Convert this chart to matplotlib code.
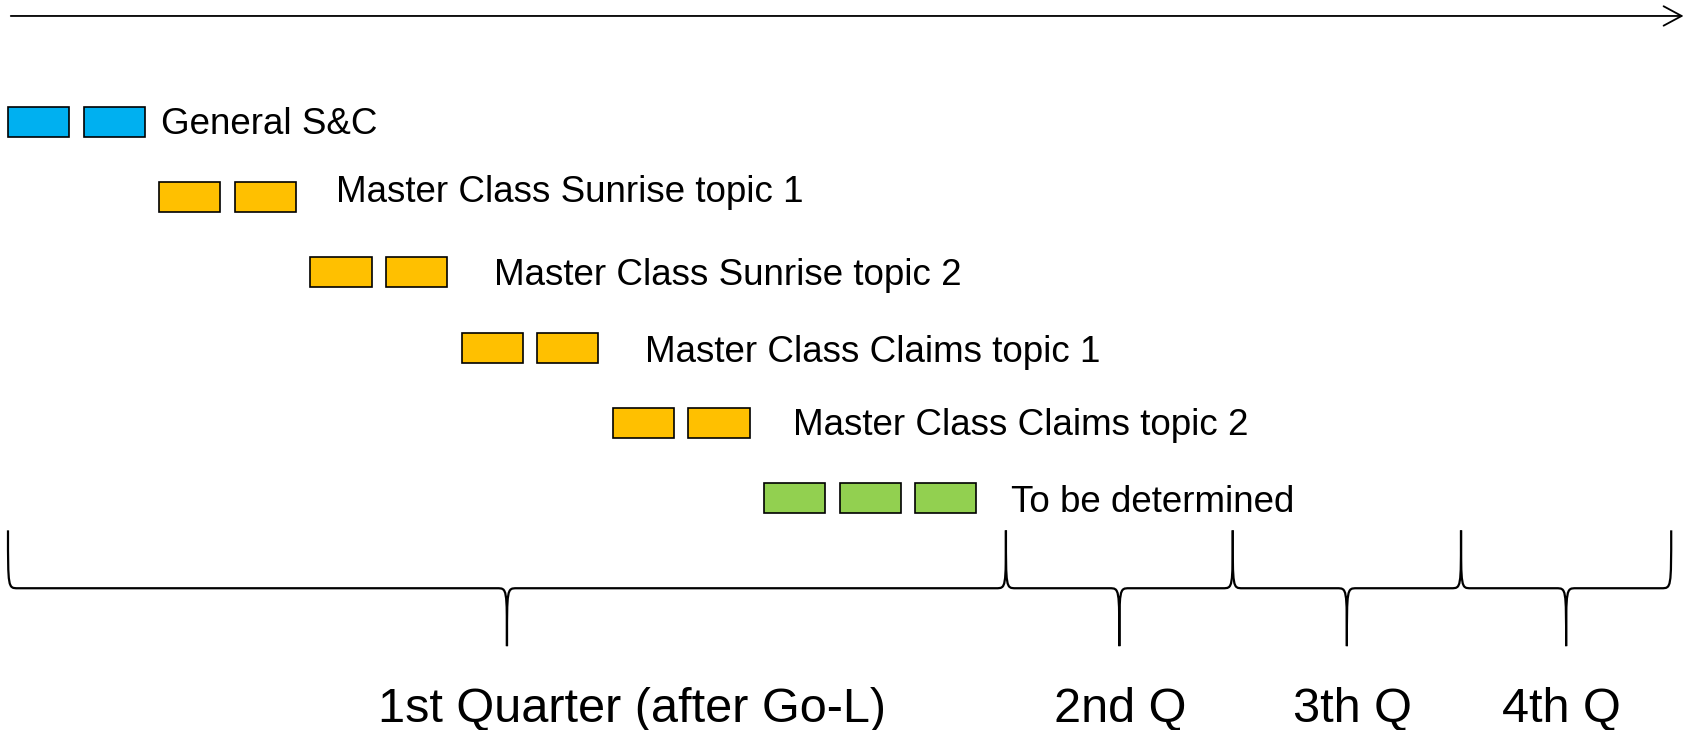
"""
Training roadmap: sessions per topic laid out on a quarter timeline
"""

import matplotlib.pyplot as plt
from matplotlib.path import Path
from matplotlib.patches import PathPatch, Rectangle, FancyArrowPatch

# data
topics = ["General S&C", "Master Class Sunrise topic 1", "Master Class Sunrise topic 2",
          "Master Class Claims topic 1", "Master Class Claims topic 2", "To be determined"]
start_slot = [0, 2, 4, 6, 8, 10]
n_sessions = [2, 2, 2, 2, 2, 3]
topic_colors = ["#00B0F0", "#FFC000", "#FFC000", "#FFC000", "#FFC000", "#92D050"]

quarters = ["1st Quarter (after Go-L)", "2nd Q", "3th Q", "4th Q"]
quarter_edges = [0, 13.2, 16.2, 19.22, 22.0]

# layout (slot units in x, row units in y)
label_x = [2.02, 4.34, 6.43, 8.43, 10.38, 13.27]
label_dy = [0.16, 0.06, 0.17, 0.19, 0.16, 0.19]
box_w, box_h = 0.81, 0.40
brace_top, brace_line, brace_tip = 5.43, 6.20, 6.97
quarter_label_x = [8.26, 14.71, 17.78, 20.55]


def brace(ax, a, b, r=0.13):
    m = (a + b) / 2
    verts = [(a, brace_top), (a, brace_line), (a, brace_line), (a + r, brace_line),
             (m - r, brace_line),
             (m, brace_line), (m, brace_line), (m, brace_tip),
             (m, brace_line), (m, brace_line), (m + r, brace_line),
             (b - r, brace_line),
             (b, brace_line), (b, brace_line), (b, brace_top)]
    codes = [Path.MOVETO] + [Path.CURVE4] * 3 + [Path.LINETO] + [Path.CURVE4] * 6 \
        + [Path.LINETO] + [Path.CURVE4] * 3
    ax.add_patch(PathPatch(Path(verts, codes), fill=False, lw=1.6, edgecolor="black"))


fig = plt.figure(figsize=(16.94, 7.30), dpi=100)
ax = fig.add_axes([0, 0, 1, 1])
ax.set_xlim(-8 / 75.6, (1694 - 8) / 75.6)
ax.set_ylim((730 - 122) / 75.2, -122 / 75.2)
ax.axis("off")

# time arrow
ax.add_patch(FancyArrowPatch((0, -1.41), (22.2, -1.41),
                             arrowstyle="->,head_length=13,head_width=7",
                             mutation_scale=1, lw=1.3, color="black"))

for i, (name, s, n, c) in enumerate(zip(topics, start_slot, n_sessions, topic_colors)):
    for k in range(n):
        ax.add_patch(Rectangle((s + k, i - box_h / 2), box_w, box_h,
                               facecolor=c, edgecolor="black", lw=1.2))
    ax.text(label_x[i], i + label_dy[i], name, fontsize=26.5,
            family="Liberation Sans", va="baseline", ha="left")

for q, (a, b) in enumerate(zip(quarter_edges[:-1], quarter_edges[1:])):
    brace(ax, a, b)
    ax.text(quarter_label_x[q], 7.98, quarters[q], fontsize=35,
            family="Liberation Sans", va="baseline", ha="center")

fig.savefig("out.png", dpi=100)
